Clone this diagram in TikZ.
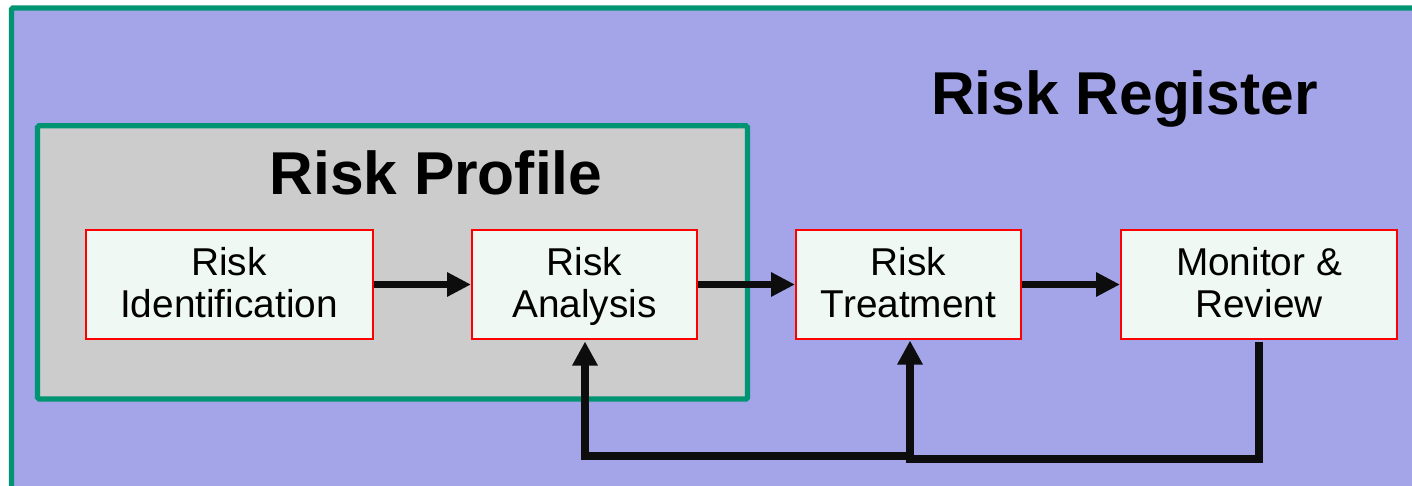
\documentclass[tikz,border=0pt]{standalone}
\usepackage{fontspec}
\setmainfont{Liberation Sans}
\usetikzlibrary{arrows.meta}

\definecolor{regfill}{RGB}{164,165,232}
\definecolor{proffill}{RGB}{204,204,204}
\definecolor{frame}{RGB}{0,148,115}
\definecolor{boxfill}{RGB}{239,248,243}
\definecolor{boxline}{RGB}{255,0,0}
\definecolor{ink}{RGB}{13,13,13}

\tikzset{
  area/.style={draw=frame, line width=5.3pt, rounded corners=1.5pt},
  stepbox/.style={draw=boxline, fill=boxfill, line width=2pt, inner sep=0pt,
    minimum height=108pt, align=center,
    font=\fontsize{38.8}{42}\selectfont, text height=72pt, text depth=5.6pt},
  title/.style={anchor=base, inner sep=0pt, font=\fontsize{60.5}{70}\selectfont\bfseries},
  flow/.style={draw=ink, line width=7.5pt, -{Triangle[length=24pt,width=23pt]}},
  loop/.style={draw=ink, line width=8pt, line join=miter},
}

\begin{document}
\begin{tikzpicture}[x=1pt, y=-1pt]
  \useasboundingbox (0,0) rectangle (1412,486);
  \fill[white] (0,0) rectangle (1412,486);
  \clip (0,0) rectangle (1412,486);

  % register and profile areas
  \path[area, fill=regfill] (11.5,8) rectangle (1440,520);
  \path[area, fill=proffill] (37.5,125.8) rectangle (747.5,399);

  \node[title] (reg) at (1124.5,115) {Risk Register};
  \node[title] (prof) at (436,195) {Risk Profile};

  % process steps
  \node[stepbox, minimum width=287pt] (ident) at (229,284.5) {Risk\\Identification};
  \node[stepbox, minimum width=225pt] (ana) at (584.5,284.5) {Risk\\Analysis};
  \node[stepbox, minimum width=225pt] (treat) at (908.5,284.5) {Risk\\Treatment};
  \node[stepbox, minimum width=276pt] (mon) at (1259,284.5) {Monitor \&\\Review};

  % forward flow
  \draw[flow] (ident.east) -- (ana.west);
  \draw[flow] (ana.east) -- (treat.west);
  \draw[flow] (treat.east) -- (mon.west);

  % feedback from monitoring
  \coordinate (fork) at (910,456);
  \draw[loop, -{Triangle[length=24pt,width=24pt]}]
    ([yshift=-2pt]mon.south) -- ++(0,117) -| ([xshift=1.5pt,yshift=-1pt]treat.south);
  \draw[loop, -{Triangle[length=24pt,width=24pt]}]
    (fork) -| ([xshift=0.5pt,yshift=-2pt]ana.south);
\end{tikzpicture}
\end{document}
